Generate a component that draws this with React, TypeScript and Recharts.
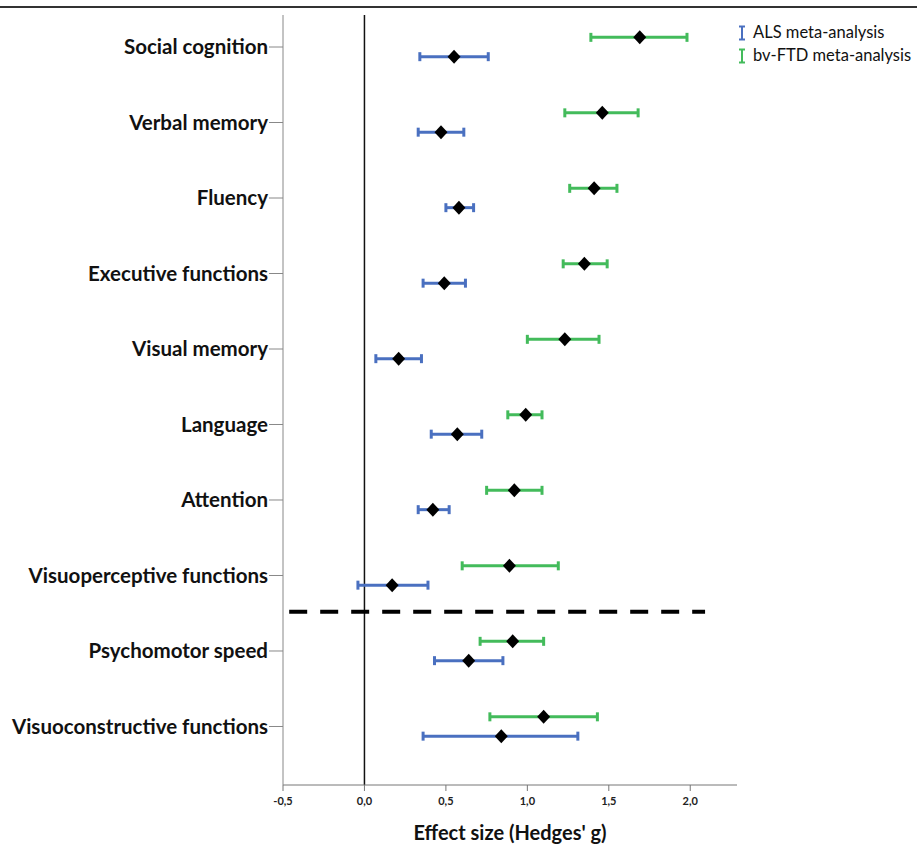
import React from 'react';
import { ComposedChart, Scatter, ErrorBar, XAxis, YAxis, ReferenceLine } from 'recharts';

// domains, top to bottom
const domains = [
  'Social cognition',
  'Verbal memory',
  'Fluency',
  'Executive functions',
  'Visual memory',
  'Language',
  'Attention',
  'Visuoperceptive functions',
  'Psychomotor speed',
  'Visuoconstructive functions',
];

// Hedges' g with 95% CI
const alsG = [0.55, 0.47, 0.58, 0.49, 0.21, 0.57, 0.42, 0.17, 0.64, 0.84];
const alsLow = [0.34, 0.33, 0.50, 0.36, 0.07, 0.41, 0.33, -0.04, 0.43, 0.36];
const alsHigh = [0.76, 0.61, 0.67, 0.62, 0.35, 0.72, 0.52, 0.39, 0.85, 1.31];

const ftdG = [1.69, 1.46, 1.41, 1.35, 1.23, 0.99, 0.92, 0.89, 0.91, 1.10];
const ftdLow = [1.39, 1.23, 1.26, 1.22, 1.00, 0.88, 0.75, 0.60, 0.71, 0.77];
const ftdHigh = [1.98, 1.68, 1.55, 1.49, 1.44, 1.09, 1.09, 1.19, 1.10, 1.43];

const xTicks = [-0.5, 0, 0.5, 1, 1.5, 2];

const BLUE = '#4a70c0';
const GREEN = '#43bb5b';
const FONT = 'Lato, "Open Sans", sans-serif';

const buildRows = (g: number[], lo: number[], hi: number[], shift: number) =>
  g.map((v, i) => ({ x: v, y: i + shift, err: [v - lo[i], hi[i] - v] }));

const ftdRows = buildRows(ftdG, ftdLow, ftdHigh, -0.128);
const alsRows = buildRows(alsG, alsLow, alsHigh, 0.128);

const Diamond = (props: any) => {
  const { cx, cy } = props;
  if (cx == null || cy == null) return null;
  return (
    <polygon
      points={`${cx},${cy - 7} ${cx + 6.5},${cy} ${cx},${cy + 7} ${cx - 6.5},${cy}`}
      fill="#000"
    />
  );
};

const legendItems = [
  { label: 'ALS meta-analysis', color: BLUE },
  { label: 'bv-FTD meta-analysis', color: GREEN },
];

const LegendBox = () => (
  <div
    style={{
      position: 'absolute',
      left: 737,
      top: 21,
      width: 180,
      whiteSpace: 'nowrap',
      fontFamily: FONT,
      fontSize: 16.5,
      color: '#111',
      lineHeight: 1,
    }}
  >
    {legendItems.map((it) => (
      <div key={it.label} style={{ display: 'flex', alignItems: 'center', height: 23 }}>
        <svg width={12} height={16} style={{ marginRight: 4, flexShrink: 0 }}>
          <line x1={5} y1={1} x2={5} y2={15} stroke={it.color} strokeWidth={2} />
          <line x1={2} y1={1.5} x2={8} y2={1.5} stroke={it.color} strokeWidth={2} />
          <line x1={2} y1={14.5} x2={8} y2={14.5} stroke={it.color} strokeWidth={2} />
        </svg>
        <span>{it.label}</span>
      </div>
    ))}
  </div>
);

export default function App() {
  return (
    <div style={{ position: 'absolute', left: 0, top: 0, width: 917, height: 847, background: '#fff' }}>
      <div
        style={{ position: 'absolute', left: 0, top: 6, width: 917, height: 2, background: '#333' }}
      />
      <ComposedChart
        width={917}
        height={847}
        margin={{ top: 15, right: 180, left: 0, bottom: 0 }}
      >
        <XAxis
          type="number"
          dataKey="x"
          domain={[-0.5, 2.287]}
          ticks={xTicks}
          allowDataOverflow
          height={62}
          tickSize={6}
          tickMargin={6}
          stroke="#777"
          tickFormatter={(v: number) => v.toFixed(1).replace('.', ',')}
          tick={{ fontSize: 11, fontWeight: 700, fill: '#222', fontFamily: FONT }}
          label={{
            value: "Effect size (Hedges' g)",
            position: 'insideBottom',
            offset: 7,
            style: { fontSize: 20, fontWeight: 700, fill: '#111', fontFamily: FONT },
          }}
        />
        <YAxis
          type="number"
          dataKey="y"
          reversed
          domain={[-0.424, 9.775]}
          ticks={domains.map((_, i) => i)}
          allowDataOverflow
          width={283}
          tickSize={14}
          tickMargin={1}
          stroke="#888"
          interval={0}
          tickFormatter={(v: number) => domains[v] ?? ''}
          tick={{ fontSize: 20.5, fontWeight: 700, fill: '#111', fontFamily: FONT }}
        />
        <ReferenceLine x={0} stroke="#111" strokeWidth={1.5} />
        <ReferenceLine
          segment={[
            { x: -0.462, y: 7.48 },
            { x: 2.091, y: 7.48 },
          ]}
          stroke="#000"
          strokeWidth={4}
          strokeDasharray="18 13"
        />
        <Scatter name="bv-FTD meta-analysis" data={ftdRows} shape={Diamond} isAnimationActive={false}>
          <ErrorBar dataKey="err" direction="x" width={4.5} stroke={GREEN} strokeWidth={3} />
        </Scatter>
        <Scatter name="ALS meta-analysis" data={alsRows} shape={Diamond} isAnimationActive={false}>
          <ErrorBar dataKey="err" direction="x" width={4.5} stroke={BLUE} strokeWidth={3} />
        </Scatter>
      </ComposedChart>
      <LegendBox />
    </div>
  );
}
